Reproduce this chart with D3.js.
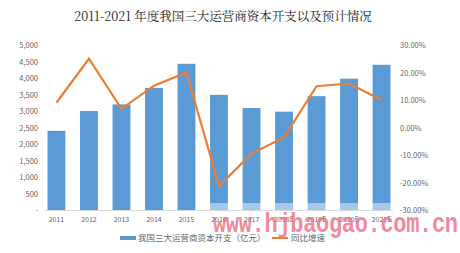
<!DOCTYPE html>
<html>
<head>
<meta charset="utf-8">
<script src="https://cdn.jsdelivr.net/npm/d3@7"></script>
<style>
body { margin: 0; background: #fff; }
text { font-family: "Noto Sans CJK SC", "DejaVu Sans", sans-serif; }
</style>
</head>
<body>
<div id="vis"></div>
<script>
var years = ["2011", "2012", "2013", "2014", "2015", "2016", "2017", "2018E", "2019E", "2020E", "2021E"];
var capex = [2400, 3000, 3200, 3700, 4430, 3490, 3090, 2980, 3450, 3980, 4400];
var growth = [9.0, 25.0, 6.8, 15.2, 20.0, -21.3, -9.5, -3.6, 15.0, 16.0, 10.0];
var leftTicks = [0, 500, 1000, 1500, 2000, 2500, 3000, 3500, 4000, 4500, 5000];
var rightTicks = [-30, -20, -10, 0, 10, 20, 30];

var width = 460;
var height = 253;
var plotLeft = 45, plotRight = 393, plotTop = 45, plotBottom = 210;

var svg = d3.select('#vis').append('svg')
    .attr('width', width)
    .attr('height', height);

svg.append('text')
    .attr('x', 223).attr('y', 21)
    .attr('text-anchor', 'middle')
    .attr('font-size', 12.5)
    .attr('fill', '#222')
    .style('font-family', '"Noto Serif CJK SC", "Noto Sans CJK SC", serif')
    .text('2011-2021 年度我国三大运营商资本开支以及预计情况');

var x = d3.scaleBand().domain(years).range([plotLeft - 4, plotRight + 4]).paddingInner(0.45).paddingOuter(0.2);
var y = d3.scaleLinear().domain([0, 5000]).range([plotBottom, plotTop]);
var y2 = d3.scaleLinear().domain([-30, 30]).range([plotBottom, plotTop]);

var fmt = d3.format(',');

svg.append('g')
    .selectAll('text').data(leftTicks).enter().append('text')
    .attr('x', 38).attr('y', function (d) { return y(d) + 3; })
    .attr('text-anchor', 'end')
    .attr('font-size', 7.5)
    .attr('fill', '#666')
    .text(function (d) { return d === 0 ? '-' : fmt(d); });

svg.append('g')
    .selectAll('text').data(rightTicks).enter().append('text')
    .attr('x', 400).attr('y', function (d) { return y2(d) + 3; })
    .attr('font-size', 7.5)
    .attr('fill', '#666')
    .text(function (d) { return d.toFixed(2) + '%'; });

svg.selectAll('rect.bar').data(capex).enter().append('rect')
    .attr('class', 'bar')
    .attr('x', function (d, i) { return x(years[i]); })
    .attr('width', x.bandwidth())
    .attr('y', function (d) { return y(d); })
    .attr('height', function (d) { return plotBottom - y(d); })
    .attr('fill', '#5b9bd5');

// light band over the lower part of the later bars
svg.append('rect')
    .attr('x', x('2016') - 2).attr('y', plotBottom - 7)
    .attr('width', x('2021E') + x.bandwidth() - x('2016') + 4).attr('height', 7)
    .attr('fill', '#fff').attr('opacity', 0.45);

svg.append('line')
    .attr('x1', plotLeft).attr('x2', plotRight)
    .attr('y1', plotBottom + 0.5).attr('y2', plotBottom + 0.5)
    .attr('stroke', '#d9d9d9');

var line = d3.line()
    .x(function (d, i) { return x(years[i]) + x.bandwidth() / 2; })
    .y(function (d) { return y2(d); });

svg.append('path')
    .datum(growth)
    .attr('d', line)
    .attr('fill', 'none')
    .attr('stroke', '#ed7d31')
    .attr('stroke-width', 2.2);

svg.append('g')
    .selectAll('text').data(years).enter().append('text')
    .attr('x', function (d) { return x(d) + x.bandwidth() / 2; })
    .attr('y', 222)
    .attr('text-anchor', 'middle')
    .attr('font-size', 7)
    .attr('fill', '#666')
    .text(function (d) { return d; });

// legend
svg.append('rect')
    .attr('x', 120).attr('y', 236).attr('width', 16).attr('height', 4)
    .attr('fill', '#5b9bd5');
svg.append('text')
    .attr('x', 138).attr('y', 241)
    .attr('font-size', 8.5).attr('fill', '#666')
    .text('我国三大运营商资本开支（亿元）');
svg.append('line')
    .attr('x1', 272).attr('x2', 288).attr('y1', 238).attr('y2', 238)
    .attr('stroke', '#ed7d31').attr('stroke-width', 2);
svg.append('text')
    .attr('x', 291).attr('y', 241)
    .attr('font-size', 8.5).attr('fill', '#666')
    .text('同比增速');

// watermark
svg.append('text')
    .attr('transform', 'translate(213,232) scale(1,1.25)')
    .attr('font-size', 22)
    .attr('font-weight', 'bold')
    .attr('textLength', 245)
    .attr('lengthAdjust', 'spacing')
    .attr('fill', '#ee6e86')
    .attr('opacity', 0.8)
    .style('font-family', '"Liberation Mono", "DejaVu Sans Mono", monospace')
    .text('www.hjbaogao.com.cn');
</script>
</body>
</html>
